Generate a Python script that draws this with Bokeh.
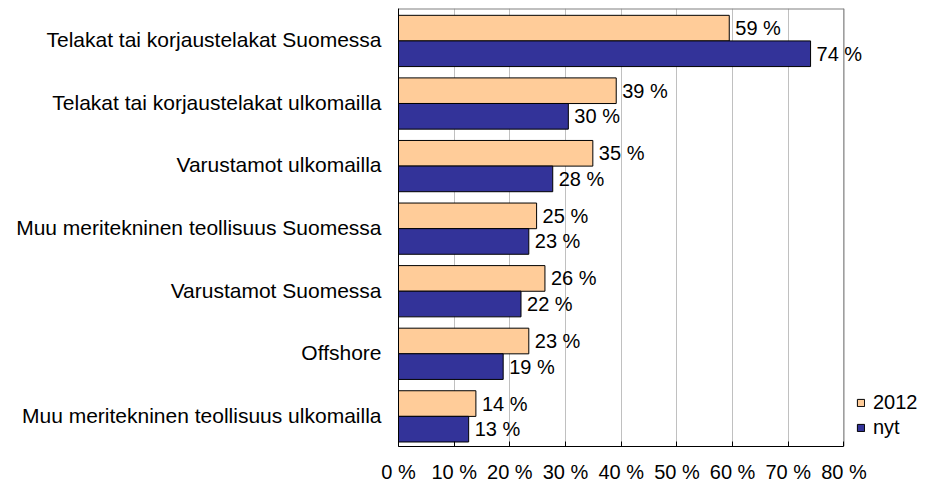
from bokeh.plotting import figure
from bokeh.models import ColumnDataSource, FactorRange, Range1d, FixedTicker, Legend, LegendItem
from bokeh.transform import dodge
from bokeh.core.properties import value
from bokeh.embed import file_html
from bokeh.resources import INLINE

categories = [
    "Telakat tai korjaustelakat Suomessa",
    "Telakat tai korjaustelakat ulkomailla",
    "Varustamot ulkomailla",
    "Muu meritekninen teollisuus Suomessa",
    "Varustamot Suomessa",
    "Offshore",
    "Muu meritekninen teollisuus ulkomailla",
]
values_2012 = [59.4, 39.1, 34.9, 24.8, 26.3, 23.4, 13.9]
values_nyt = [74.0, 30.5, 27.7, 23.4, 22.0, 18.8, 12.6]
labels_2012 = ["59 %", "39 %", "35 %", "25 %", "26 %", "23 %", "14 %"]
labels_nyt = ["74 %", "30 %", "28 %", "23 %", "22 %", "19 %", "13 %"]
tick_values = [0, 10, 20, 30, 40, 50, 60, 70, 80]
tick_labels = ["0 %", "10 %", "20 %", "30 %", "40 %", "50 %", "60 %", "70 %", "80 %"]
series_names = ["2012", "nyt"]

FONT = "Liberation Sans"
AXIS_MIN = tick_values[0]
AXIS_MAX = tick_values[-1]
VIEW_MAX = 95.0   # visible x extent (room on the right for labels & legend)

src = ColumnDataSource(dict(cat=categories, v2012=values_2012, vnyt=values_nyt,
                            l2012=labels_2012, lnyt=labels_nyt))

p = figure(width=927, height=485,
           y_range=FactorRange(factors=list(reversed(categories))),
           x_range=Range1d(0, VIEW_MAX),
           output_backend="svg", toolbar_location=None,
           min_border_left=398, min_border_right=0, min_border_top=8, min_border_bottom=0)

# vertical grid (only up to the axis maximum)
p.xgrid.ticker = FixedTicker(ticks=tick_values)
p.xgrid.grid_line_color = "#C0C0C0"
p.ygrid.grid_line_color = None
p.outline_line_color = None

# plot-area border (top and right, gray)
border_src = ColumnDataSource(dict(top=[categories[0]], bottom=[categories[-1]],
                                   xa=[AXIS_MIN], xb=[AXIS_MAX]))
p.segment(x0='xa', x1='xb', y0=dodge('top', 0.5, range=p.y_range),
          y1=dodge('top', 0.5, range=p.y_range), source=border_src,
          line_color="#808080", line_width=2)
p.segment(x0='xb', x1='xb', y0=dodge('bottom', -0.5, range=p.y_range),
          y1=dodge('top', 0.5, range=p.y_range), source=border_src,
          line_color="#808080", line_width=1)

r1 = p.hbar(y=dodge('cat', 0.186, range=p.y_range), left=0, right='v2012', height=0.41,
            fill_color="#FFCC99", line_color="black", line_width=1, source=src)
r2 = p.hbar(y=dodge('cat', -0.223, range=p.y_range), left=0, right='vnyt', height=0.41,
            fill_color="#333399", line_color="black", line_width=1, source=src)

p.text(x='v2012', y=dodge('cat', 0.186, range=p.y_range), text='l2012', x_offset=6,
       text_align='left', text_baseline='middle', text_font=value(FONT),
       text_font_size="20px", text_color="black", source=src)
p.text(x='vnyt', y=dodge('cat', -0.223, range=p.y_range), text='lnyt', x_offset=6,
       text_align='left', text_baseline='middle', text_font=value(FONT),
       text_font_size="20px", text_color="black", source=src)

p.xaxis.bounds = (AXIS_MIN, AXIS_MAX)
p.xaxis.ticker = FixedTicker(ticks=tick_values)
p.xaxis.major_label_overrides = {t: l for t, l in zip(tick_values, tick_labels)}
p.xaxis.major_label_text_font = FONT
p.xaxis.major_label_text_font_size = "20px"
p.xaxis.major_label_text_color = "black"
p.xaxis.major_label_text_line_height = 0.9
p.xaxis.major_tick_in = 5
p.xaxis.major_tick_out = 0
p.xaxis.minor_tick_line_color = None
p.xaxis.major_tick_line_color = "black"
p.xaxis.axis_line_color = "black"
p.xaxis.major_label_standoff = 14

p.yaxis.major_label_text_font = FONT
p.yaxis.major_label_text_font_size = "21px"
p.yaxis.major_label_text_color = "black"
p.yaxis.major_tick_in = 0
p.yaxis.major_tick_out = 0
p.yaxis.axis_line_color = "black"
p.yaxis.major_label_standoff = 17

legend = Legend(items=[LegendItem(label=series_names[0], renderers=[r1]),
                       LegendItem(label=series_names[1], renderers=[r2])],
                location=(458, 7), glyph_width=9, glyph_height=9,
                label_text_font=FONT, label_text_font_size="20px",
                label_text_color="black",
                border_line_color=None, background_fill_alpha=0,
                padding=0, margin=0, spacing=2, label_standoff=8)
p.add_layout(legend)

open("out.html", "w").write(file_html(p, INLINE))
